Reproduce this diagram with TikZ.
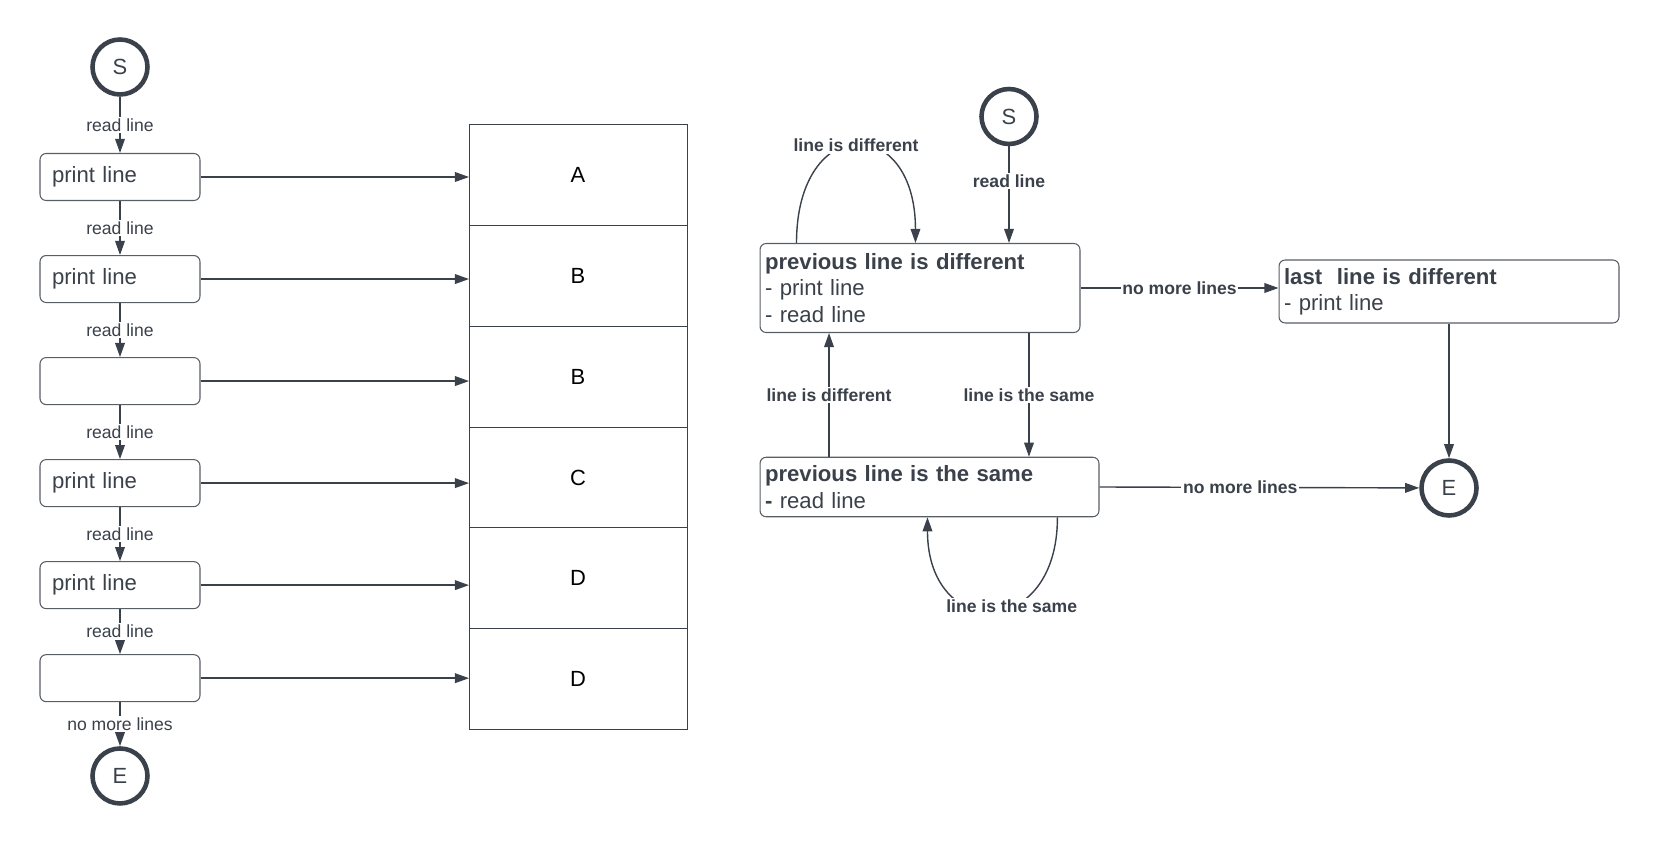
\documentclass[tikz,border=0pt]{standalone}
\usepackage{fontspec}
\setmainfont{Liberation Sans}
\usepackage{tikz}
\usetikzlibrary{arrows.meta}
\usetikzlibrary{positioning}
\definecolor{ink}{HTML}{3A414A}
\tikzset{
    endpoint/.style={
           circle,
           draw=ink, line width=2.6pt,
           minimum size=1.1cm,
           inner sep=0pt,
           text=ink,
           font=\fontsize{12.5}{14}\selectfont,
           },
    linebox/.style={
           rectangle,
           rounded corners=3.5pt,
           draw=ink!85, line width=0.6pt,
           text=ink,
           align=left,
           font=\fontsize{12.6}{15}\selectfont,
           },
    cellbox/.style={
           rectangle,
           draw=ink, line width=0.5pt,
           minimum width=4.36cm,
           minimum height=2.02cm,
           outer sep=0pt,
           font=\fontsize{12.5}{14}\selectfont,
           },
    lab/.style={fill=white, inner sep=1pt, text=ink,
           font=\fontsize{10}{12}\selectfont},
    blab/.style={lab, font=\fontsize{10}{12}\selectfont\bfseries},
}
\begin{document}
\begin{tikzpicture}[x=0.02cm, y=-0.02cm, ->, >={Triangle[length=8pt,width=5.5pt]},
    every edge/.style={draw=ink, line width=0.8pt}]
  \useasboundingbox (0,0) rectangle (1660,844);
  % left: one pass over the input
  \node[endpoint] (S1) at (120,67) {S};
  \node[linebox,
 text width=2.72cm, inner xsep=0.24cm,
 minimum height=0.94cm] (box1) at (120,177) {print line};
  \node[linebox,
 below=1.08cm of box1,
 text width=2.72cm, inner xsep=0.24cm,
 minimum height=0.94cm] (box2) {print line};
  \node[linebox,
 below=1.08cm of box2,
 text width=2.72cm, inner xsep=0.24cm,
 minimum height=0.94cm] (box3) {};
  \node[linebox,
 below=1.08cm of box3,
 text width=2.72cm, inner xsep=0.24cm,
 minimum height=0.94cm] (box4) {print line};
  \node[linebox,
 below=1.08cm of box4,
 text width=2.72cm, inner xsep=0.24cm,
 minimum height=0.94cm] (box5) {print line};
  \node[linebox,
 below=0.9cm of box5,
 text width=2.72cm, inner xsep=0.24cm,
 minimum height=0.94cm] (box6) {};
  \node[endpoint, below=0.88cm of box6] (E1) {E};

  % input lines
  \node[cellbox] (cell1) at (578,174.5) {A};
  \node[cellbox, below=0pt of cell1] (cell2) {B};
  \node[cellbox, below=0pt of cell2] (cell3) {B};
  \node[cellbox, below=0pt of cell3] (cell4) {C};
  \node[cellbox, below=0pt of cell4] (cell5) {D};
  \node[cellbox, below=0pt of cell5] (cell6) {D};

  % right: states
  \node[endpoint] (S2) at (1009,116.5) {S};
  \node[linebox,
 text width=6.2cm, inner xsep=0.1cm,
 minimum height=1.78cm] (PD) at (920,288)
 {\textbf{previous line is different}\\- print line\\- read line};
  \node[linebox,
 text width=6.58cm, inner xsep=0.1cm,
 minimum height=1.19cm] (PS) at (929.5,487)
 {\textbf{previous line is the same}\\\textbf{-} read line};
  \node[linebox,
 text width=6.6cm, inner xsep=0.1cm,
 minimum height=1.26cm] (LD) at (1449,291.5)
 {\textbf{last\ \ line is different}\\- print line};
  \node[endpoint] (E2) at (1449,488) {E};

\path
  (S1) edge node[lab] {read line} (box1)
  (box1) edge node[lab] {read line} (box2)
  (box2) edge node[lab] {read line} (box3)
  (box3) edge node[lab] {read line} (box4)
  (box4) edge node[lab] {read line} (box5)
  (box5) edge node[lab] {read line} (box6)
  (box6) edge node[lab] {no more lines} (E1)
  (box1.east) edge (box1.east -| cell1.west)
  (box2.east) edge (box2.east -| cell2.west)
  (box3.east) edge (box3.east -| cell3.west)
  (box4.east) edge (box4.east -| cell4.west)
  (box5.east) edge (box5.east -| cell5.west)
  (box6.east) edge (box6.east -| cell6.west)

  (S2) edge node[blab, pos=0.36] {read line} (S2 |- PD.north)
  (PD.east) edge node[blab] {no more lines} (PD.east -| LD.west)
  (LD) edge (E2)
  (PS.east) edge node[blab, pos=0.44] {no more lines} (E2)
  ([xshift=-2.01cm]PS.north) edge
    node[blab] {line is different}
    ([xshift=-2.01cm]PS.north |- PD.south)
  ([xshift=2.18cm]PD.south) edge
    node[blab] {line is the same}
    ([xshift=2.18cm]PD.south |- PS.north)
 ;
  % self loops
  \draw[draw=ink, line width=0.8pt]
    ([xshift=0.74cm]PD.north west) .. controls +(0,-130) and +(0,-130) ..
    node[blab] {line is different} ([xshift=3.12cm]PD.north west);
  \draw[draw=ink, line width=0.8pt]
    ([xshift=5.96cm]PS.south west) .. controls +(0,124) and +(0,124) ..
    node[blab, pos=0.4] {line is the same} ([xshift=3.36cm]PS.south west);
\end{tikzpicture}
\end{document}
